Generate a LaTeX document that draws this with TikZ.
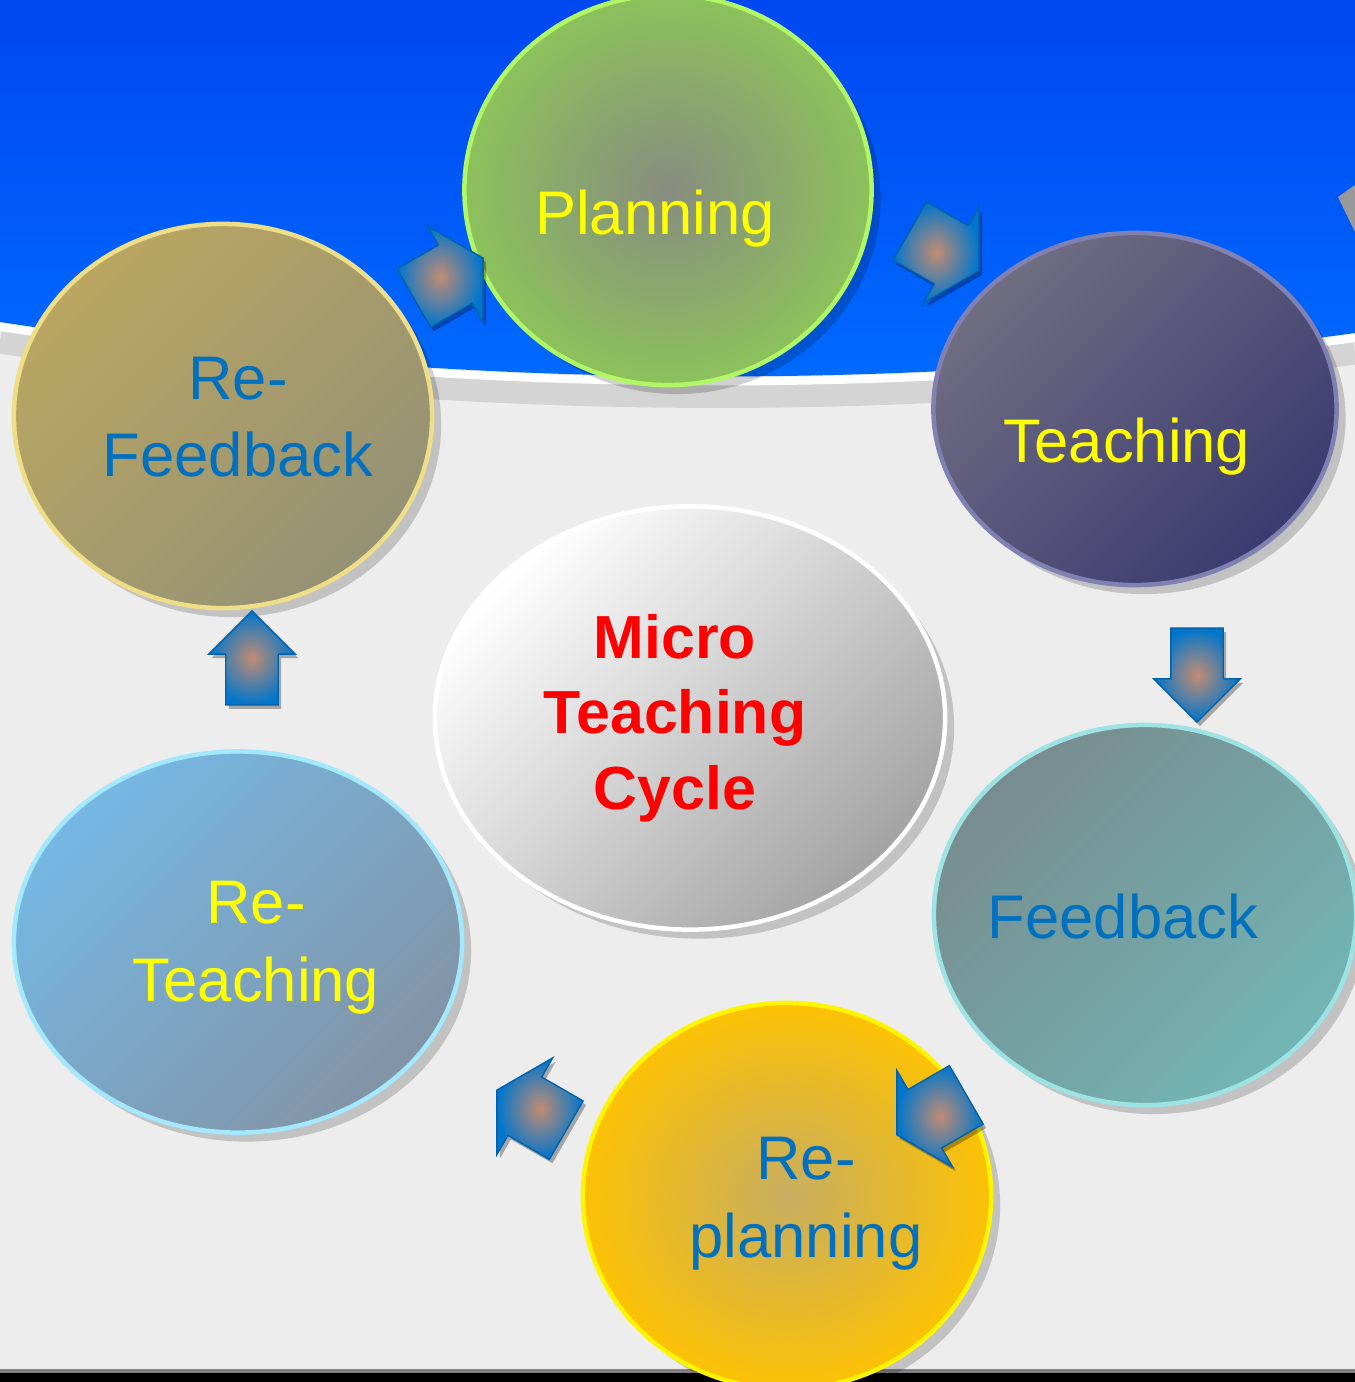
\documentclass[tikz,border=0pt]{standalone}
\usepackage{fontspec}
\setmainfont{Liberation Sans}
\usepackage{color}
\usepackage[dvipsnames]{xcolor}
\definecolor{mybg}{rgb}{0.93,0.93,0.93}
\definecolor{myblue}{rgb}{0.,0.28,0.94}
\definecolor{mylightblue}{rgb}{0.,0.42,1.}
\definecolor{myyellow}{rgb}{1.,1.,0.}
\definecolor{mytextblue}{rgb}{0.,0.44,0.75}
\definecolor{myred}{rgb}{1.,0.,0.}
\definecolor{mygreenmid}{rgb}{0.53,0.55,0.50}
\definecolor{mygreen}{rgb}{0.55,0.76,0.36}
\definecolor{mygreenrim}{rgb}{0.70,0.97,0.40}
\definecolor{mynavytop}{rgb}{0.44,0.43,0.51}
\definecolor{mynavybot}{rgb}{0.23,0.23,0.44}
\definecolor{mynavyrim}{rgb}{0.50,0.50,0.70}
\definecolor{myteal}{rgb}{0.47,0.55,0.56}
\definecolor{mytealbot}{rgb}{0.45,0.71,0.71}
\definecolor{mytealrim}{rgb}{0.62,0.89,0.89}
\definecolor{myorangemid}{rgb}{0.78,0.68,0.38}
\definecolor{myorange}{rgb}{0.99,0.76,0.02}
\definecolor{myorangerim}{rgb}{1.,0.96,0.}
\definecolor{mysky}{rgb}{0.46,0.72,0.89}
\definecolor{myskybot}{rgb}{0.51,0.58,0.65}
\definecolor{myskyrim}{rgb}{0.64,0.91,0.99}
\definecolor{mykhaki}{rgb}{0.73,0.65,0.38}
\definecolor{mykhakibot}{rgb}{0.58,0.57,0.46}
\definecolor{mykhakirim}{rgb}{0.93,0.87,0.53}
\definecolor{mygrey}{rgb}{0.64,0.64,0.64}
\definecolor{myarrow}{rgb}{0.,0.46,0.80}
\definecolor{myarrowmid}{rgb}{0.76,0.55,0.45}
\definecolor{myarrowedge}{rgb}{0.,0.38,0.68}
\usetikzlibrary{positioning,shapes.geometric,shapes.arrows,shadows,calc}

\begin{document}
\begin{tikzpicture}[x=0.01cm,y=-0.01cm,
    bubble/.style={ellipse,inner sep=0pt,line width=0.045cm,
        drop shadow={shadow xshift=0.09cm,shadow yshift=-0.09cm,opacity=0.18,fill=black}},
    word/.style={font=\fontsize{17.5}{22.1}\selectfont,align=center},
    blockarrow/.style={single arrow,inner xsep=0pt,inner ysep=0.255cm,single arrow head extend=0.17cm,
        minimum width=0.85cm,minimum height=0.94cm,
        inner color=myarrowmid,outer color=myarrow,draw=myarrowedge,line width=0.4pt,
        drop shadow={shadow xshift=0.03cm,shadow yshift=-0.04cm,opacity=0.3,fill=black}},
    tiltarrow/.style={blockarrow,inner ysep=0.33cm,single arrow head extend=0.22cm,minimum width=1.1cm,
        minimum height=0.8cm,single arrow tip angle=120}]
    \useasboundingbox (0,0) rectangle (1355,1382);
    \fill[mybg] (0,0) rectangle (1355,1382);
    \shade[top color=myblue,bottom color=mylightblue] (0,0) -- (1355,0) -- (1355,333) .. controls (900,395) and (450,390) .. (0,322) -- cycle;
    \draw[black,opacity=0.1,line width=0.25cm] (1355,352) .. controls (900,414) and (450,409) .. (0,341);
    \draw[white,line width=0.08cm] (1355,338) .. controls (900,400) and (450,395) .. (0,327);
    \fill[gray] (0,1369) rectangle (1355,1373);
    \fill[black] (0,1373) rectangle (1355,1382);
    \fill[gray!80] (1338,197) -- (1355,185) -- (1355,232) -- cycle;

    \node[bubble,minimum width=4.07cm,minimum height=3.9cm,inner color=mygreenmid,outer color=mygreen,draw=mygreenrim] (planning) at (668,190) {};
    \node[bubble,minimum width=4.03cm,minimum height=3.52cm,top color=mynavytop,bottom color=mynavybot,shading angle=45,draw=mynavyrim] (teaching) at (1135,409) {};
    \node[bubble,minimum width=4.22cm,minimum height=3.8cm,top color=myteal,bottom color=mytealbot,shading angle=45,draw=mytealrim] (feedback) at (1145,915) {};
    \node[bubble,minimum width=4.08cm,minimum height=3.86cm,inner color=myorangemid,outer color=myorange,draw=myorangerim] (replanning) at (787,1196) {};
    \node[bubble,minimum width=4.48cm,minimum height=3.81cm,top color=mysky,bottom color=myskybot,shading angle=45,draw=myskyrim] (reteaching) at (238,942) {};
    \node[bubble,minimum width=4.18cm,minimum height=3.84cm,top color=mykhaki,bottom color=mykhakibot,shading angle=45,draw=mykhakirim] (refeedback) at (223,416) {};
    \node[bubble,minimum width=5.1cm,minimum height=4.23cm,top color=white,bottom color=mygrey,shading angle=45,draw=white] (hub) at (690,718) {};

    \node[tiltarrow,rotate=30] (refeedback to planning) at (440,283) {};
    \node[tiltarrow,rotate=-30] (planning to teaching) at (936,246) {};
    \node[blockarrow,rotate=-90] (teaching to feedback) at (1197,662) {};
    \node[tiltarrow,rotate=-150] (feedback to replanning) at (940,1110) {};
    \node[tiltarrow,rotate=150] (replanning to reteaching) at (540,1115) {};
    \node[blockarrow,rotate=90] (reteaching to refeedback) at (252,671) {};

    \node[word,text=myyellow,anchor=base] (planning text) at (655,235) {Planning};
    \node[word,text=myyellow,anchor=base] (teaching text) at (1127,462) {Teaching};
    \node[word,text=mytextblue,anchor=base] (feedback text) at (1123,938) {Feedback};
    \node[word,text=mytextblue] (replanning text) at (806,1204) {Re-\\planning};
    \node[word,text=myyellow] (reteaching text) at (256,948) {Re-\\Teaching};
    \node[word,text=mytextblue] (refeedback text) at (238,417) {Re-\\Feedback};
    \node[word,text=myred,font=\fontsize{17.3}{21.5}\selectfont\bfseries] (hub text) at (675,718) {Micro\\Teaching\\Cycle};
\end{tikzpicture}
\end{document}
